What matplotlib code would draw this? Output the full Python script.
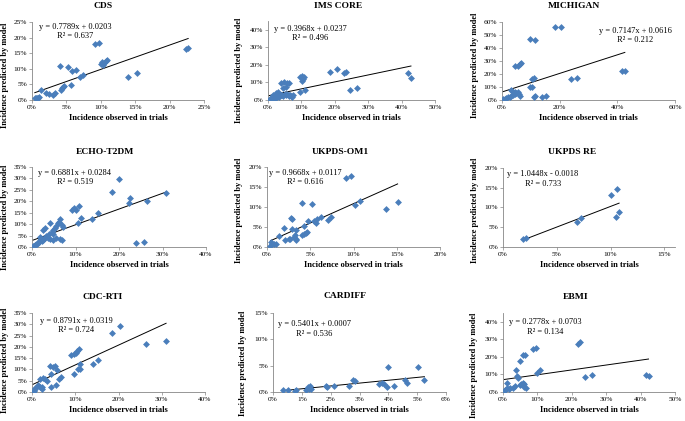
import numpy as np
import matplotlib
matplotlib.use('Agg')
import matplotlib.pyplot as plt
from matplotlib.ticker import PercentFormatter, MultipleLocator

#-------------- DATA (incidence in %, observed x vs predicted y)

cds_x = [0.4, 0.6, 0.8, 1.0, 0.7, 1.36, 2.1, 2.5, 3.1, 3.3, 4.0, 4.2, 4.3, 4.5, 4.7,
         5.2, 5.7, 5.8, 6.4, 7.0, 7.4, 9.1, 9.8, 10.1, 10.2, 10.4, 10.7, 10.9, 10.3,
         13.9, 15.2, 22.4, 22.7]
cds_y = [0.6, 0.8, 0.8, 0.9, 0.5, 3.2, 2.2, 2.0, 1.7, 2.3, 10.9, 3.2, 3.9, 4.3, 4.6,
         10.6, 4.8, 9.3, 9.5, 7.3, 8.0, 18.0, 18.4, 11.6, 12.3, 11.9, 12.4, 12.7, 11.3,
         7.5, 8.7, 16.5, 16.8]

ims_x = [0.3, 0.5, 0.7, 0.9, 1.1, 1.3, 1.5, 1.7, 2.0, 2.3, 2.6, 3.0, 3.4, 3.8, 4.2,
         4.6, 5.0, 5.4, 5.8, 6.2, 6.6, 7.0, 7.4, 1.6, 2.4, 3.1, 3.8, 4.8, 5.6, 6.4,
         5.4, 4.6, 6.4, 7.1, 9.6, 10.1, 10.4, 10.8, 10.1, 9.6, 11.1, 18.5, 20.7,
         22.7, 23.3, 24.5, 26.5, 42.0, 42.8]
ims_y = [0.2, 0.5, 0.8, 0.4, 1.2, 0.9, 1.5, 1.1, 1.8, 1.4, 2.0, 2.4, 1.9, 2.6, 3.0,
         2.2, 3.2, 2.7, 3.4, 2.5, 3.0, 2.1, 2.8, 2.9, 4.2, 4.8, 9.9, 10.5, 9.5, 9.9,
         7.6, 6.7, 2.9, 1.9, 13.0, 13.7, 11.8, 13.0, 11.0, 4.8, 5.7, 15.8, 17.5,
         15.2, 16.2, 5.7, 6.7, 15.4, 12.6]

mich_x = [0.35, 0.9, 1.5, 2.1, 2.7, 3.2, 3.8, 3.0, 3.6, 4.4, 5.0, 5.6, 5.9, 6.1, 4.4,
          4.4, 5.6, 6.1, 6.7, 9.6, 11.4, 9.6, 10.4, 10.4, 11.0, 11.1, 11.4, 14.0, 15.3,
          18.3, 20.4, 23.9, 26.1, 41.7, 42.6]
mich_y = [0.5, 1.0, 1.5, 2.1, 2.6, 3.1, 3.8, 7.7, 7.2, 6.4, 5.6, 6.2, 4.6, 3.3, 4.6,
          26.4, 26.2, 27.7, 28.2, 46.7, 46.2, 10.3, 9.7, 16.4, 16.9, 2.1, 2.8, 2.6, 3.3,
          56.4, 56.4, 16.2, 16.7, 22.3, 22.3]

echo_x = [0.2, 0.5, 0.7, 0.9, 1.2, 1.4, 1.6, 1.8, 2.1, 2.3, 2.5, 1.9, 2.9, 3.3, 3.7,
          3.9, 4.5, 4.8, 2.5, 2.9, 4.1, 4.8, 5.2, 5.6, 6.0, 6.2, 6.4, 6.8, 7.2, 4.1,
          4.8, 5.6, 6.4, 6.8, 9.1, 9.6, 10.1, 10.7, 10.6, 11.2, 13.9, 15.2, 18.3, 20.1,
          22.2, 22.5, 23.8, 25.8, 26.4, 30.8]
echo_y = [0.3, 0.6, 0.9, 1.2, 1.5, 1.9, 2.2, 2.9, 3.5, 2.6, 3.2, 4.4, 4.1, 4.7, 4.1,
          5.9, 6.6, 5.9, 7.4, 8.1, 10.3, 7.4, 8.1, 9.1, 10.3, 11.0, 12.1, 9.6, 8.8, 3.7,
          3.2, 4.1, 3.7, 2.9, 16.2, 16.9, 16.2, 17.9, 10.6, 12.5, 12.2, 14.7, 24.0, 29.7,
          19.4, 21.3, 1.8, 2.2, 20.3, 23.8]

om1_x = [0.4, 0.6, 0.8, 1.0, 0.5, 1.35, 2.0, 2.1, 2.5, 2.7, 2.8, 2.9, 2.9, 3.3, 3.1,
         3.3, 3.4, 3.2, 4.1, 5.2, 4.1, 4.3, 4.5, 4.6, 4.3, 4.7, 5.4, 5.7, 5.8, 6.2,
         7.0, 7.4, 9.1, 9.7, 10.2, 10.8, 13.8, 15.1]
om1_y = [0.3, 0.7, 0.7, 0.8, 1.2, 2.8, 4.7, 1.7, 1.9, 2.1, 7.3, 7.1, 4.6, 4.2, 2.5,
         2.1, 1.8, 2.9, 11.1, 10.7, 2.9, 3.3, 3.6, 3.8, 5.2, 6.6, 6.6, 6.1, 7.1, 7.6,
         6.7, 7.4, 17.2, 17.8, 10.4, 11.4, 9.6, 11.3]

re_x = [1.9, 2.1, 6.85, 7.3, 10.0, 10.6, 10.5, 10.8]
re_y = [2.0, 2.3, 6.4, 7.3, 13.2, 14.6, 7.5, 8.9]

cdc_x = [0.2, 0.5, 0.6, 0.8, 1.4, 1.8, 2.2, 2.4, 1.9, 2.5, 3.1, 3.5, 4.2, 4.9, 5.4,
         5.8, 4.3, 4.5, 5.5, 6.3, 6.6, 9.1, 9.7, 10.1, 10.4, 10.8, 9.7, 10.7, 11.0,
         11.2, 14.0, 15.3, 18.4, 20.3, 26.3, 31.0]
cdc_y = [0.1, 0.6, 1.2, 1.6, 3.1, 2.4, 2.1, 1.5, 5.9, 6.4, 5.8, 5.0, 11.3, 11.0, 11.3,
         9.8, 8.0, 2.4, 3.1, 5.8, 6.8, 16.5, 16.9, 17.5, 18.1, 19.0, 7.9, 10.1, 10.1,
         12.3, 12.3, 14.2, 26.1, 29.4, 21.4, 22.4]

card_x = [0.33, 0.52, 0.75, 0.8, 1.15, 1.21, 1.27, 1.29, 1.24, 1.33, 1.85, 1.88, 2.13,
          2.62, 2.77, 2.85, 3.66, 3.77, 3.86, 3.97, 4.0, 4.18, 4.58, 4.64, 5.04, 5.25]
card_y = [0.3, 0.45, 0.2, 0.3, 0.45, 0.96, 0.83, 1.08, 0.5, 0.64, 1.2, 0.96, 1.08,
          1.08, 2.2, 2.1, 1.6, 1.7, 1.6, 0.96, 4.8, 1.08, 2.2, 1.7, 4.8, 2.36]

ebmi_x = [0.4, 0.7, 1.1, 1.6, 2.1, 2.8, 1.2, 3.4, 3.9, 4.1, 4.5, 4.8, 5.2, 5.7, 6.0,
          5.0, 5.9, 6.4, 6.2, 6.7, 8.8, 9.6, 9.9, 10.8, 21.9, 22.4, 23.7, 25.8, 41.5, 42.3]
ebmi_y = [0.4, 1.1, 2.1, 1.5, 2.3, 2.3, 5.4, 3.4, 12.6, 9.2, 8.2, 4.0, 4.6, 5.4, 4.6,
          17.4, 20.9, 21.1, 3.1, 2.5, 24.5, 25.3, 11.1, 12.3, 27.6, 28.5, 8.4, 9.4, 9.6, 9.2]

titles = ["CDS", "IMS CORE", "MICHIGAN", "ECHO-T2DM", "UKPDS-OM1", "UKPDS RE",
          "CDC-RTI", "CARDIFF", "EBMI"]
slopes = [0.7789, 0.3968, 0.7147, 0.6881, 0.9668, 1.0448, 0.8791, 0.5401, 0.2778]
intercepts = [0.0203, 0.0237, 0.0616, 0.0284, 0.0117, -0.0018, 0.0319, 0.0007, 0.0703]
r2 = [0.637, 0.496, 0.212, 0.519, 0.616, 0.733, 0.724, 0.536, 0.134]

xs = [cds_x, ims_x, mich_x, echo_x, om1_x, re_x, cdc_x, card_x, ebmi_x]
ys = [cds_y, ims_y, mich_y, echo_y, om1_y, re_y, cdc_y, card_y, ebmi_y]

# axis ranges (xmax, xstep, ymax, ystep)
x_max  = [0.25, 0.50, 0.60, 0.40, 0.20, 0.16, 0.40, 0.06, 0.50]
x_step = [0.05, 0.10, 0.20, 0.10, 0.05, 0.05, 0.10, 0.01, 0.10]
y_max  = [0.25, 0.45, 0.60, 0.35, 0.20, 0.20, 0.35, 0.15, 0.45]
y_step = [0.05, 0.10, 0.10, 0.05, 0.05, 0.05, 0.05, 0.05, 0.10]

#-------------- LAYOUT (pixel positions measured on the 685x421 canvas)

W, H = 685.0, 421.0
boxes = [(32, 22, 204, 100), (268, 21, 435, 100), (502, 22, 675, 100),
         (32, 167, 206, 247), (267, 167, 440, 247), (503, 168, 675, 247),
         (32, 313, 205, 392), (273, 313, 446, 392), (503, 313, 675, 392)]
title_pos = [(103, 6), (338, 6), (574, 6), (105, 152), (340, 152), (572, 152),
             (103, 297), (345, 296), (576, 297)]
eq_pos = [(75, 27), (310, 29), (635, 31), (75, 173), (305, 173), (543, 174),
          (76, 321), (314, 324), (545, 322)]
ylab_pos = [(5, 75), (239, 70), (475, 65), (5, 217), (239, 210), (475, 210),
            (5, 360), (243, 363), (474, 365)]

SERIF = ['Liberation Serif', 'DejaVu Serif']
plt.rcParams['font.family'] = SERIF

fig = plt.figure(figsize=(6.85, 4.21), dpi=100)

for i in range(9):
    l, t, r, b = boxes[i]
    ax = fig.add_axes([l / W, 1 - b / H, (r - l) / W, (b - t) / H])
    x = np.array(xs[i]) / 100.0
    y = np.array(ys[i]) / 100.0
    ax.plot(x, y, 'D', color='#4a7ebb', markersize=3.5, markeredgewidth=0, zorder=3)

    xl = np.array([x.min(), x.max()])
    ax.plot(xl, slopes[i] * xl + intercepts[i], '-', color='black', linewidth=0.7, zorder=2)

    ax.set_xlim(0, x_max[i])
    ax.set_ylim(0, y_max[i])
    ax.xaxis.set_major_locator(MultipleLocator(x_step[i]))
    ax.yaxis.set_major_locator(MultipleLocator(y_step[i]))
    ax.xaxis.set_major_formatter(PercentFormatter(1.0, decimals=0))
    ax.yaxis.set_major_formatter(PercentFormatter(1.0, decimals=0))
    for s in ['top', 'right']:
        ax.spines[s].set_visible(False)
    for s in ['left', 'bottom']:
        ax.spines[s].set_color('#868686')
        ax.spines[s].set_linewidth(0.6)
    ax.tick_params(direction='out', length=2, width=0.5, color='#868686',
                   labelsize=5.3, pad=1.5)
    ax.set_xlabel("Incidence observed in trials", fontsize=6, fontweight='bold', labelpad=3)

    sign = '+' if intercepts[i] >= 0 else '-'
    eq = "y = %.4fx %s %.4f" % (slopes[i], sign, abs(intercepts[i]))
    ex, ey = eq_pos[i]
    fig.text(ex / W, 1 - ey / H, eq, fontsize=6, ha='center', va='center')
    fig.text(ex / W, 1 - (ey + 9.5) / H, "R² = %.3f" % r2[i], fontsize=6, ha='center', va='center')

    tx, ty = title_pos[i]
    fig.text(tx / W, 1 - ty / H, titles[i], fontsize=6.8, fontweight='bold',
             ha='center', va='center')
    lx, ly = ylab_pos[i]
    fig.text(lx / W, 1 - ly / H, "Incidence predicted by model", fontsize=6,
             fontweight='bold', rotation=90, ha='center', va='center')

plt.savefig("out.png", dpi=100)
